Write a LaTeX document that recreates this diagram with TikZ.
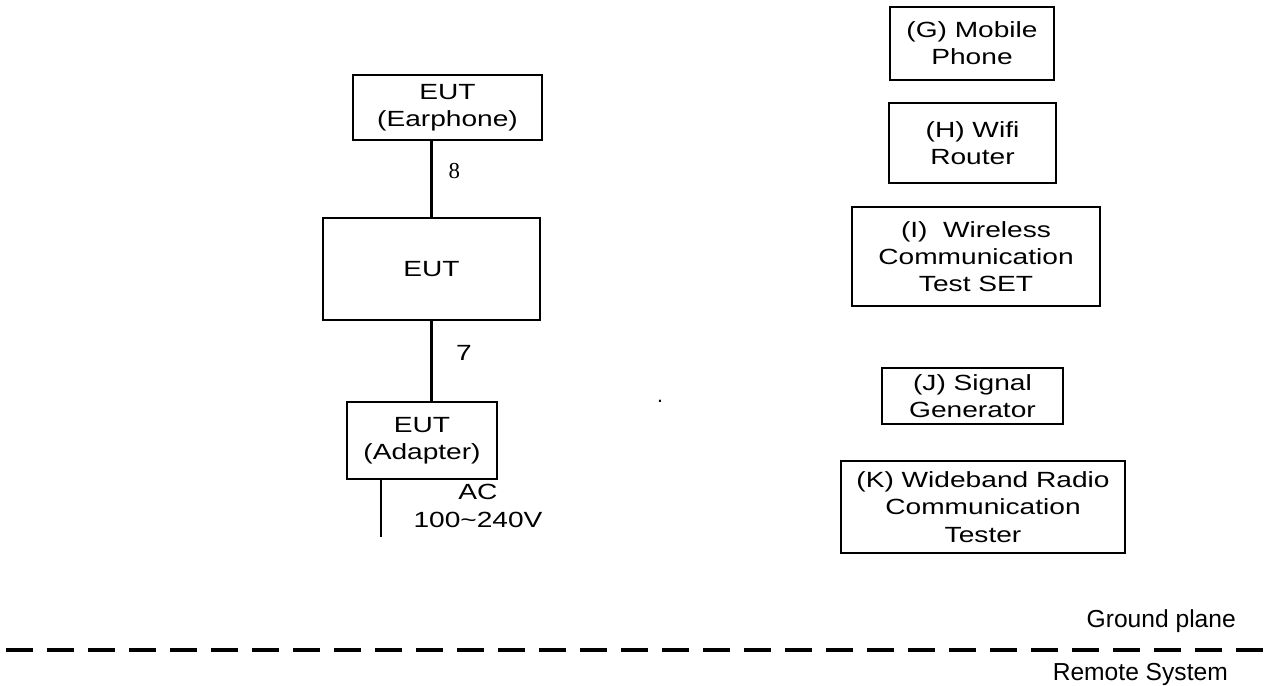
\documentclass[tikz,border=0pt]{standalone}
\usepackage{fontspec}
\setmainfont{Liberation Sans}
\newfontfamily\boxfont[FakeStretch=1.28]{Liberation Sans}
\newfontfamily\numfont{Liberation Serif}
\usetikzlibrary{positioning}

\begin{document}
\begin{tikzpicture}[
    box/.style={draw, line width=1.3pt, align=center, inner sep=0pt,
                font=\boxfont\fontsize{12.5}{15.5}\selectfont},
    wire/.style={line width=1.3pt},
    lbl/.style={font=\boxfont\fontsize{12.5}{15.5}\selectfont, align=center},
    gnd/.style={line width=2.6pt, dash pattern=on 0.54cm off 0.28cm},
    side/.style={font=\fontsize{14}{16}\selectfont, anchor=east}
  ]
  \useasboundingbox (0,0) rectangle (25.4,-13.72);

  \node[box, minimum width=3.78cm, minimum height=1.3cm] (earphone) at (8.95,-2.15) {EUT\\(Earphone)};
  \node[box, minimum width=4.34cm, minimum height=2.04cm] (eut) at (8.63,-5.38) {EUT};
  \node[box, minimum width=3.0cm, minimum height=1.54cm] (adapter) at (8.44,-8.81) {EUT\\(Adapter)};

  \node[box, minimum width=3.28cm, minimum height=1.46cm] (phone) at (19.44,-0.87) {(G) Mobile\\Phone};
  \node[box, minimum width=3.34cm, minimum height=1.6cm] (router) at (19.45,-2.86) {(H) Wifi\\Router};
  \node[box, minimum width=4.96cm, minimum height=1.98cm] (testset) at (19.52,-5.13) {(I)\ \ Wireless\\Communication\\Test SET};
  \node[box, minimum width=3.62cm, minimum height=1.12cm] (siggen) at (19.45,-7.92) {(J) Signal\\Generator};
  \node[box, minimum width=5.68cm, minimum height=1.84cm] (tester) at (19.66,-10.14) {(K) Wideband Radio\\Communication\\Tester};

  \coordinate (acend) at (7.62,-10.74);
  \draw[wire] (eut.north |- earphone.south) -- node[pos=0.4, right=0.2cm, font=\numfont\fontsize{13}{15}\selectfont] (c8) {8} (eut.north);
  \draw[wire] (eut.south) -- node[pos=0.4, right=0.35cm, lbl] (c7) {7} (eut.south |- adapter.north);
  \draw[wire] (adapter.south -| acend) -- (acend);
  \node[lbl] (ac) at (9.56,-10.12) {AC\\100\textasciitilde240V};

  \node[font=\fontsize{12}{14}\selectfont] (dot) at (13.2,-8.03) {.};

  \coordinate (gl) at (0.12,-13.0);
  \coordinate (gr) at (25.4,-13.0);
  \draw[gnd] (gl) -- (gr);
  \node[side] (ground) at (24.84,-12.42) {Ground plane};
  \node[side] (remote) at (24.68,-13.48) {Remote System};
\end{tikzpicture}
\end{document}
